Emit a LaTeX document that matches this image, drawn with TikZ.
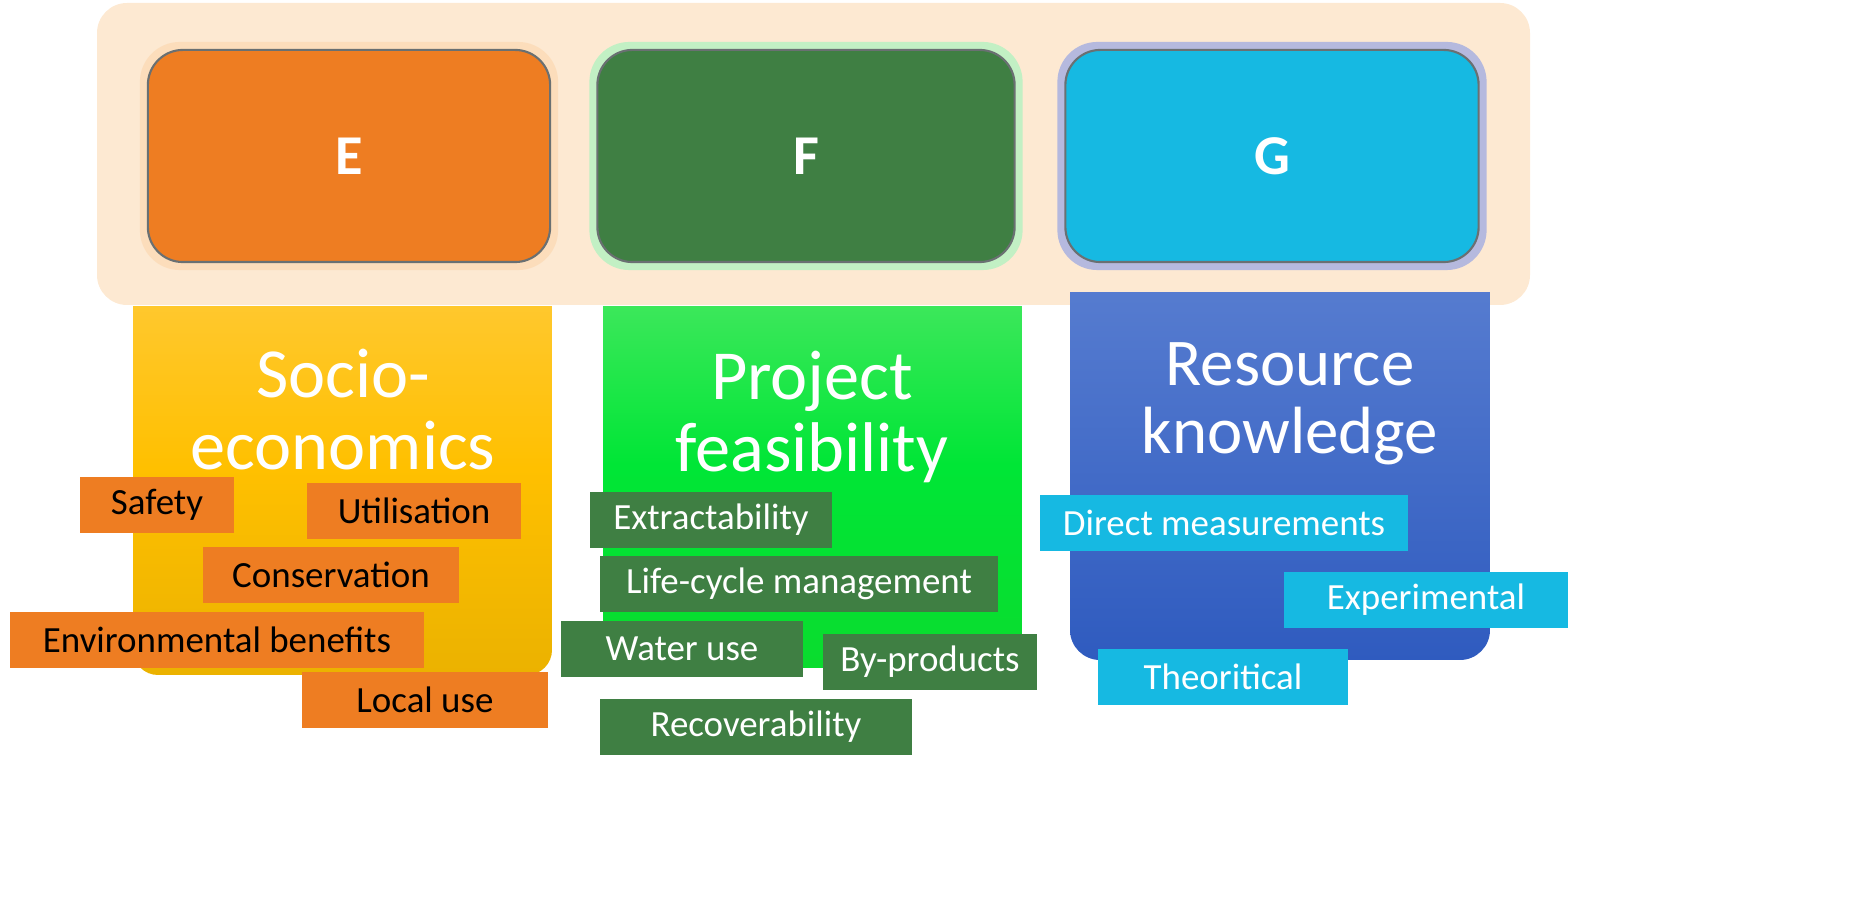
\documentclass[tikz,border=0pt]{standalone}
\usepackage{fontspec}
\setmainfont{Carlito}
\usetikzlibrary{positioning}

\definecolor{peach}{HTML}{FDE9D2}
\definecolor{eorange}{HTML}{EE7D22}
\definecolor{fgreen}{HTML}{3F7F43}
\definecolor{gcyan}{HTML}{16B9E2}
\definecolor{eglowc}{HTML}{FCDDBB}
\definecolor{fglowc}{HTML}{C2F0C4}
\definecolor{gglowc}{HTML}{B5B9DE}
\definecolor{boxline}{HTML}{6A7072}
\definecolor{goldtop}{HTML}{FFCA3A}
\definecolor{goldmid}{HTML}{FFC000}
\definecolor{goldbot}{HTML}{EBB200}
\definecolor{limetop}{HTML}{4DE865}
\definecolor{limemid}{HTML}{00E636}
\definecolor{limebot}{HTML}{0ADC2E}
\definecolor{bluetop}{HTML}{5B80D2}
\definecolor{bluebot}{HTML}{2F5BBF}

\begin{document}
\begin{tikzpicture}[
    x=0.01cm, y=0.01cm,
    glow/.style={rounded corners=0.4cm, inner sep=0pt, minimum height=2.28cm},
    hdr/.style={draw=boxline, line width=0.6pt, rounded corners=0.35cm, inner sep=0pt,
        minimum width=#1, minimum height=2.12cm, text=white, font=\fontsize{16}{19}\selectfont\bfseries},
    title_font/.style={text=white, align=center, inner sep=0pt, font=\fontsize{20}{20.5}\selectfont},
    tag/.style={inner sep=0pt, minimum height=0.55cm, font=\fontsize{10.5}{12}\selectfont},
    etag/.style={tag, fill=eorange, text=black},
    ftag/.style={tag, fill=fgreen, text=white},
    gtag/.style={tag, fill=gcyan, text=white}
]
    \useasboundingbox (0,0) rectangle (1875,900);

    % Top band
    \fill[peach, rounded corners=0.3cm] (97,595) rectangle (1530,897);

    % Category boxes
    \node[glow, fill=eglowc, minimum width=4.18cm] (eglow) at (349,744) {};
    \node[glow, fill=fglowc, minimum width=4.33cm] (fglow) at (806,744) {};
    \node[glow, fill=gglowc, minimum width=4.29cm] (gglow) at (1272,744) {};
    \node[hdr=4.02cm, fill=eorange] (cate) at (349,744) {E};
    \node[hdr=4.17cm, fill=fgreen] (catf) at (806,744) {F};
    \node[hdr=4.13cm, fill=gcyan] (catg) at (1272,744) {G};

    % Columns
    \begin{scope}
        \clip (133,225) rectangle (552,593);
        \shade[top color=goldtop, bottom color=goldbot, middle color=goldmid, rounded corners=0.25cm] (133,225) rectangle (552,640);
    \end{scope}
    \begin{scope}
        \clip (603,232) rectangle (1022,593);
        \shade[top color=limetop, bottom color=limebot, middle color=limemid, rounded corners=0.25cm] (603,232) rectangle (1022,640);
    \end{scope}
    \begin{scope}
        \clip (1070,240) rectangle (1490,607);
        \shade[top color=bluetop, bottom color=bluebot, rounded corners=0.3cm] (1070,240) rectangle (1490,660);
    \end{scope}

    \node[title_font] (socio) at (343,490) {Socio-\\economics};
    \node[title_font] (project) at (812,483) {Project\\feasibility};
    \node[title_font, font=\fontsize{19}{19.5}\selectfont] (resource) at (1290,496) {Resource\\knowledge};

    % Socio-economics items
    \node[etag, minimum width=1.54cm] (safety) at (157,395) {Safety};
    \node[etag, minimum width=2.13cm] (util) at (414,389) {Utilisation};
    \node[etag, minimum width=2.55cm] (conserv) at (331,325) {Conservation};
    \node[etag, minimum width=4.13cm] (envben) at (217,260) {Environmental benefits};
    \node[etag, minimum width=2.46cm] (localuse) at (425,200) {Local use};

    % Project feasibility items
    \node[ftag, minimum width=2.42cm] (extract) at (711,380) {Extractability};
    \node[ftag, minimum width=3.98cm] (lifecycle) at (799,316) {Life-cycle management};
    \node[ftag, minimum width=2.42cm] (water) at (682,251) {Water use};
    \node[ftag, minimum width=2.14cm] (byprod) at (930,238) {By-products};
    \node[ftag, minimum width=3.12cm] (recover) at (756,173) {Recoverability};

    % Resource knowledge items
    \node[gtag, minimum width=3.68cm] (direct) at (1224,377) {Direct measurements};
    \node[gtag, minimum width=2.83cm] (experim) at (1426,300) {Experimental};
    \node[gtag, minimum width=2.50cm] (theory) at (1223,223) {Theoritical};

\end{tikzpicture}
\end{document}
